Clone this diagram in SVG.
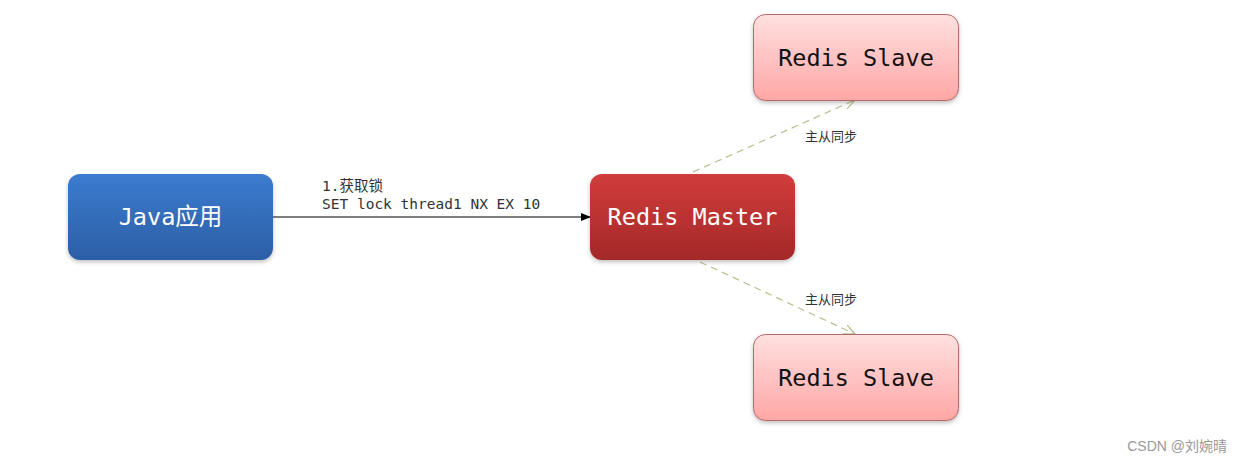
<svg xmlns="http://www.w3.org/2000/svg" width="1243" height="463" viewBox="0 0 1243 463">
<style>
.node-text{font-family:"DejaVu Sans Mono","Liberation Mono","Noto Sans CJK SC",monospace;font-size:23.5px;text-anchor:middle;dominant-baseline:central}
.lbl{font-family:"DejaVu Sans Mono","Liberation Mono","Noto Sans CJK SC",monospace;font-size:14.5px;fill:#333}
.sync{font-family:"Noto Sans CJK SC",sans-serif;font-size:13px;fill:#333}
.dash{stroke:#b9c08e;stroke-width:1.2;stroke-dasharray:7 5;fill:none}
</style>
<defs>
<linearGradient id="gBlue" x1="0" y1="0" x2="0" y2="1"><stop offset="0" stop-color="#3b7ccf"/><stop offset="1" stop-color="#2c5ea6"/></linearGradient>
<linearGradient id="gRed" x1="0" y1="0" x2="0" y2="1"><stop offset="0" stop-color="#d23c3c"/><stop offset="1" stop-color="#a42828"/></linearGradient>
<linearGradient id="gPink" x1="0" y1="0" x2="0" y2="1"><stop offset="0" stop-color="#ffe0e0"/><stop offset="1" stop-color="#ffa6a6"/></linearGradient>
<filter id="sh" x="-10%" y="-10%" width="120%" height="130%"><feDropShadow dx="0" dy="2" stdDeviation="2" flood-color="#000" flood-opacity="0.25"/></filter>
<marker id="arr" markerWidth="10" markerHeight="8" refX="9" refY="4" orient="auto" markerUnits="userSpaceOnUse"><path d="M0,0 L10,4 L0,8 z" fill="#000"/></marker>
<marker id="open" markerWidth="12" markerHeight="10" refX="11" refY="5" orient="auto" markerUnits="userSpaceOnUse"><path d="M0,0 L11,5 L0,10" fill="none" stroke="#b9c08e" stroke-width="1.2"/></marker>
</defs>
<g id="connectors">
<line x1="273" y1="217" x2="590" y2="217" stroke="#000" stroke-width="1.2" marker-end="url(#arr)"/>
<text class="lbl" x="322" y="191">1.获取锁</text>
<text class="lbl" x="322" y="209">SET lock thread1 NX EX 10</text>
<line class="dash" x1="693" y1="172" x2="855" y2="100" marker-end="url(#open)"/>
<text class="sync" x="805" y="141">主从同步</text>
<line class="dash" x1="700" y1="262" x2="855" y2="334" marker-end="url(#open)"/>
<text class="sync" x="805" y="304">主从同步</text>
</g>
<g id="java">
<rect x="68" y="174" width="205" height="86" rx="12" fill="url(#gBlue)" filter="url(#sh)"/>
<text class="node-text" x="170.5" y="217" fill="#fff" font-size="21">Java应用</text>
</g>
<g id="master">
<rect x="590" y="174" width="205" height="86" rx="12" fill="url(#gRed)" filter="url(#sh)"/>
<text class="node-text" x="692.5" y="217" fill="#fff">Redis Master</text>
</g>
<g id="slave1">
<rect x="753.5" y="14.5" width="205" height="86" rx="12" fill="url(#gPink)" stroke="#b56a6a" stroke-width="1" filter="url(#sh)"/>
<text class="node-text" x="856" y="57.5" fill="#111">Redis Slave</text>
</g>
<g id="slave2">
<rect x="753.5" y="334.5" width="205" height="86" rx="12" fill="url(#gPink)" stroke="#b56a6a" stroke-width="1" filter="url(#sh)"/>
<text class="node-text" x="856" y="377.5" fill="#111">Redis Slave</text>
</g>
<text x="1227" y="451" text-anchor="end" font-family="Liberation Sans,'Noto Sans CJK SC',sans-serif" font-size="14" fill="#999">CSDN @刘婉晴</text>
</svg>
